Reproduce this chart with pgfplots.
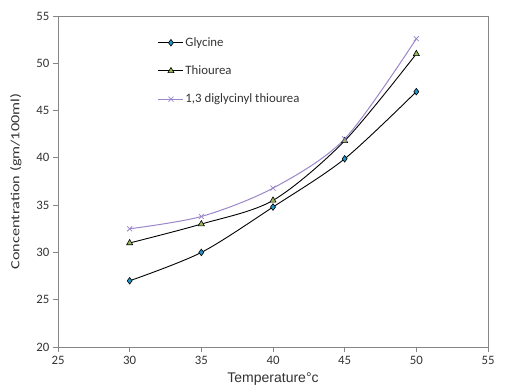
\documentclass[border=0pt]{standalone}
\usepackage{pgfplots}
\pgfplotsset{compat=1.18}
\usepackage{fontspec}
\setmainfont{Carlito}
\newfontfamily\ylabfont[FakeStretch=1.3]{Carlito}
\newfontfamily\arialfont{Liberation Sans}
\definecolor{axgray}{HTML}{868686}
\definecolor{glyblue}{HTML}{1F96C8}
\definecolor{thigreen}{HTML}{9BBB59}
\definecolor{dipurple}{HTML}{9A86C8}
\begin{document}
\begin{tikzpicture}[x=1pt,y=1pt]
\begin{axis}[
  scale only axis,
  width=430pt, height=331pt,
  xmin=25, xmax=55, ymin=20, ymax=55,
  xtick={25,30,...,55}, ytick={20,25,...,55},
  tick align=outside, tick pos=left,
  major tick length=5pt,
  axis line style={axgray, line width=0.9pt},
  every tick/.style={axgray, line width=0.9pt},
  /pgf/number format/assume math mode=true,
  tick label style={font=\fontsize{12.8}{14}\selectfont, text=black!80},
  xticklabel style={yshift=-1pt},
  xlabel={\arialfont Temperature°c},
  ylabel={\ylabfont Concentration (gm/100ml)},
  xlabel style={font=\fontsize{14}{16}\selectfont, text=black!80, yshift=-1pt},
  ylabel style={font=\fontsize{12.5}{14}\selectfont, text=black!80, yshift=8pt},
  legend style={draw=none, fill=none, at={(0.232,0.94)}, anchor=north west,
    font=\fontsize{12.8}{14}\selectfont, row sep=14.8pt, text=black!80,
    inner sep=0pt, nodes={inner sep=1.5pt}},
  legend cell align=left,
  legend image code/.code={\draw[mark repeat=2,mark phase=2] plot coordinates {(0pt,0pt) (12.5pt,0pt) (25pt,0pt)};},
]
\addplot[black, line width=0.9pt, smooth, mark=diamond*, mark size=3.3pt, mark options={fill=glyblue, draw=black, line width=0.6pt}]
 coordinates {(30,27) (35,30) (40,34.8) (45,39.9) (50,47)};
\addlegendentry{Glycine}
\addplot[black, line width=0.9pt, smooth, mark=triangle*, mark size=3.5pt, mark options={fill=thigreen, draw=black, line width=0.6pt}]
 coordinates {(30,31) (35,33) (40,35.5) (45,41.8) (50,51)};
\addlegendentry{Thiourea}
\addplot[dipurple, line width=1pt, smooth, mark=x, mark size=3.5pt, mark options={dipurple, line width=0.8pt}]
 coordinates {(30,32.5) (35,33.8) (40,36.8) (45,42) (50,52.6)};
\addlegendentry{1,3 diglycinyl thiourea}
\end{axis}
\path ([xshift=-58pt,yshift=-44pt]current axis.south west) rectangle ([xshift=33pt,yshift=16pt]current axis.north east);
\end{tikzpicture}
\end{document}
